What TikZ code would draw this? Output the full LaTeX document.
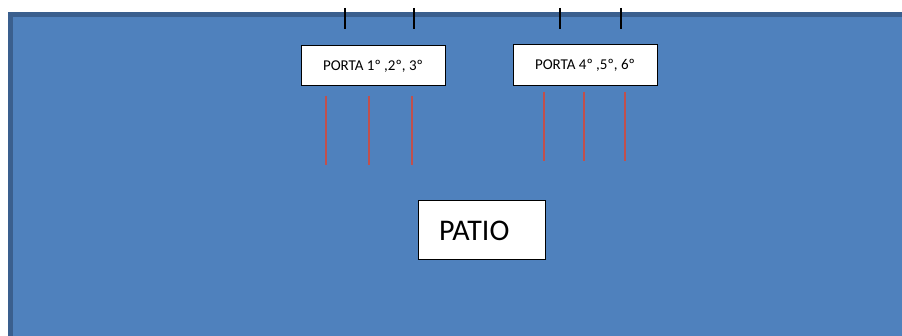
\documentclass[tikz,border=0pt]{standalone}
\usepackage{fontspec}
\setmainfont{Carlito}
\definecolor{fillblue}{HTML}{4F81BD}
\definecolor{edgeblue}{HTML}{3A5F8E}
\definecolor{doorred}{HTML}{C0504D}
\tikzset{
  portbox/.style={draw=black, fill=white, line width=1pt, inner sep=0pt, font=\fontsize{15}{17}\selectfont},
  patiobox/.style={draw=black, fill=white, line width=1pt, inner sep=0pt, font=\fontsize{30}{32}\selectfont},
  tick/.style={draw=black, line width=1.6pt},
  redline/.style={draw=doorred, line width=1.4pt},
}
\begin{document}
\begin{tikzpicture}[x=1pt,y=-1pt]
\useasboundingbox (0,0) rectangle (902,336);
\fill[white] (0,0) rectangle (902,336);
% yard
\fill[fillblue] (12,16) rectangle (902,336);
\fill[edgeblue] (8,12) rectangle (902,17);
\fill[edgeblue] (8,12) rectangle (13,336);
% ticks on top
\coordinate (t1a) at (345,8); \coordinate (t1b) at (345,29);
\coordinate (t2a) at (414,8); \coordinate (t2b) at (414,29);
\coordinate (t3a) at (560,8); \coordinate (t3b) at (560,29);
\coordinate (t4a) at (621,8); \coordinate (t4b) at (621,29);
\draw[tick] (t1a) -- (t1b);
\draw[tick] (t2a) -- (t2b);
\draw[tick] (t3a) -- (t3b);
\draw[tick] (t4a) -- (t4b);
% boxes
\node[portbox, minimum width=144pt, minimum height=40pt] (p1) at (373,66) {PORTA 1º ,2º, 3º};
\node[portbox, minimum width=144pt, minimum height=41pt] (p2) at (585,65.5) {PORTA 4º ,5º, 6º};
\node[patiobox, minimum width=127pt, minimum height=59pt, text width=121pt, align=left] (patio) at (481.5,230.5) {\hspace{18pt}PATIO};
% red lines
\coordinate (r1a) at (326,96); \coordinate (r1b) at (326,165);
\coordinate (r2a) at (369,96); \coordinate (r2b) at (369,165);
\coordinate (r3a) at (412,96); \coordinate (r3b) at (412,165);
\coordinate (r4a) at (544,92); \coordinate (r4b) at (544,161);
\coordinate (r5a) at (584,92); \coordinate (r5b) at (584,161);
\coordinate (r6a) at (625,92); \coordinate (r6b) at (625,161);
\draw[redline] (r1a) -- (r1b);
\draw[redline] (r2a) -- (r2b);
\draw[redline] (r3a) -- (r3b);
\draw[redline] (r4a) -- (r4b);
\draw[redline] (r5a) -- (r5b);
\draw[redline] (r6a) -- (r6b);
\end{tikzpicture}
\end{document}
